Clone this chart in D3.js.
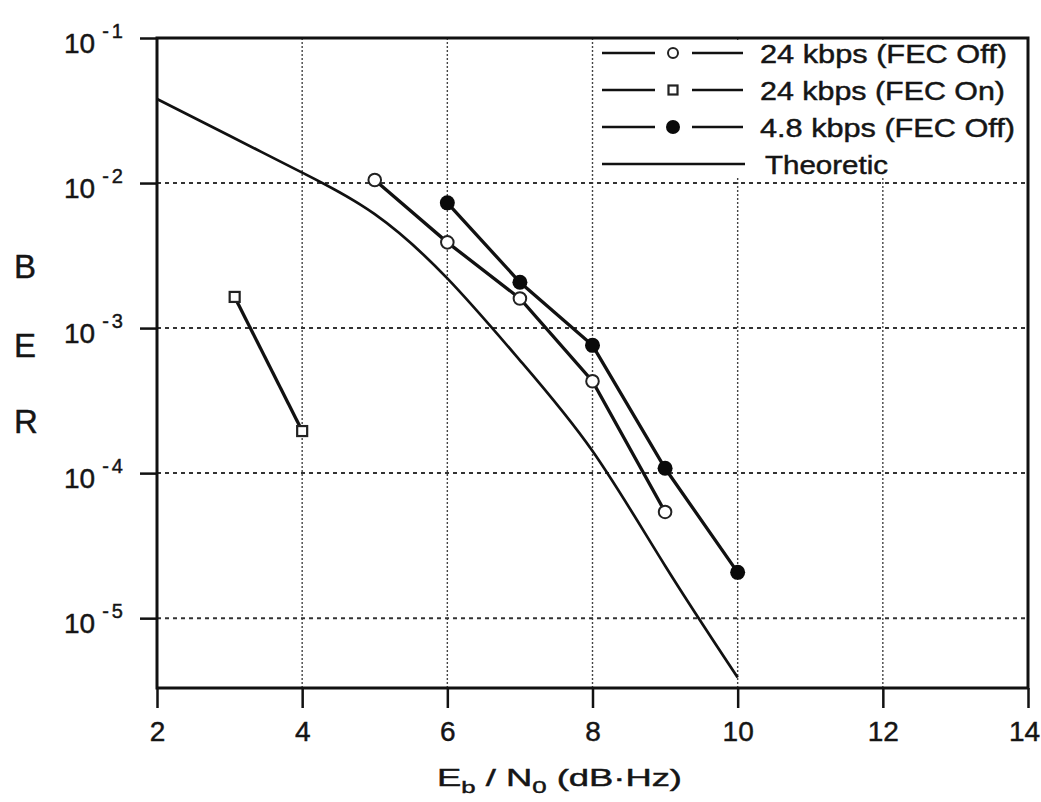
<!DOCTYPE html>
<html>
<head>
<meta charset="utf-8">
<script src="https://cdn.jsdelivr.net/npm/d3@7"></script>
<style>
  body { margin: 0; background: #fff; }
  text { font-family: "Liberation Sans", Arial, Helvetica, sans-serif; fill: #151515; stroke: #151515; stroke-width: 0.45px; }
</style>
</head>
<body>
<div id="chart"></div>
<script>
// values: Eb/N0 (dB-Hz) against BER
var fecOff24X = [5, 6, 7, 8, 9];
var fecOff24 = [0.0105, 0.0039, 0.0016, 0.00043, 0.000054];

var fecOn24X = [3.07, 4];
var fecOn24 = [0.00164, 0.000195];

var fecOff48X = [6, 7, 8, 9, 10];
var fecOff48 = [0.0073, 0.00207, 0.00076, 0.000108, 0.0000207];

var theoryX = [2, 3, 4, 5, 6, 7, 8, 9, 10];
var theory = [0.038, 0.0212, 0.0118, 0.0061, 0.0022, 0.0006, 0.000142, 0.000023, 0.0000039];

var xTicks = [2, 4, 6, 8, 10, 12, 14];
var yExps = [-1, -2, -3, -4, -5];
var legendLabels = ["24 kbps (FEC Off)", "24 kbps (FEC On)", "4.8 kbps (FEC Off)", "Theoretic"];

var width = 1041,
    height = 802;

var x = d3.scaleLinear()
    .domain([2, 14])
    .range([157, 1028]);

var y = d3.scaleLog()
    .domain([3.3e-6, 0.1])
    .range([688, 38]);

var svg = d3.select("#chart")
    .append("svg")
    .attr("width", width)
    .attr("height", height);

var zip = function(xs, ys) { return xs.map(function(v, i) { return {x: v, y: ys[i]}; }); };

// grid lines
svg.append("g")
    .selectAll("line")
    .data(xTicks.slice(1, -1))
    .enter().append("line")
    .attr("x1", d => x(d)).attr("x2", d => x(d))
    .attr("y1", y.range()[1]).attr("y2", y.range()[0])
    .style("stroke", "#444")
    .style("stroke-width", 1.4)
    .style("stroke-dasharray", "2,2");

svg.append("g")
    .selectAll("line")
    .data(yExps.slice(1))
    .enter().append("line")
    .attr("x1", x.range()[0]).attr("x2", x.range()[1])
    .attr("y1", d => y(Math.pow(10, d))).attr("y2", d => y(Math.pow(10, d)))
    .style("stroke", "#333")
    .style("stroke-width", 2)
    .style("stroke-dasharray", "4,4");

// legend sits on a white box that hides the grid
var legend = svg.append("g");
legend.append("rect")
    .attr("x", 598).attr("y", 40)
    .attr("width", 428).attr("height", 136)
    .style("fill", "#fff");

// axes
var xAxis = svg.append("g")
    .attr("transform", "translate(0," + y.range()[0] + ")")
    .call(d3.axisBottom(x).tickValues(xTicks).tickSize(20).tickFormat(""));

var yAxis = svg.append("g")
    .attr("transform", "translate(" + x.range()[0] + ",0)")
    .call(d3.axisLeft(y).tickValues(yExps.map(e => Math.pow(10, e))).tickSize(17).tickFormat(""));

[xAxis, yAxis].forEach(function(a) {
    a.select(".domain").remove();
    a.selectAll("line").style("stroke", "#111").style("stroke-width", 2.5);
});

xAxis.selectAll(".tick")
    .append("text")
    .attr("y", 53)
    .attr("x", d => d == 14 ? -4 : 0)
    .attr("text-anchor", "middle")
    .style("font-size", "28px")
    .style("fill", "#151515")
    .text(d => d);

yAxis.selectAll(".tick")
    .append("text")
    .attr("x", -93)
    .attr("y", 14)
    .attr("text-anchor", "start")
    .style("font-size", "28px")
    .style("fill", "#151515")
    .each(function(d) {
        var t = d3.select(this);
        t.append("tspan").text("10");
        t.append("tspan")
            .attr("dx", 7)
            .attr("dy", -15)
            .style("font-size", "20px")
            .style("letter-spacing", "3px")
            .text("-" + (-Math.round(Math.log10(d))));
    });

// frame
svg.append("rect")
    .attr("x", x.range()[0]).attr("y", y.range()[1])
    .attr("width", x.range()[1] - x.range()[0])
    .attr("height", y.range()[0] - y.range()[1])
    .style("fill", "none")
    .style("stroke", "#111")
    .style("stroke-width", 3);

// axis titles
var xTitle = svg.append("text")
    .attr("x", 437)
    .attr("y", 786)
    .attr("textLength", 245)
    .attr("lengthAdjust", "spacingAndGlyphs")
    .style("font-size", "24px");
xTitle.append("tspan").text("E");
xTitle.append("tspan").attr("dy", 7).style("font-size", "17px").text("b");
xTitle.append("tspan").attr("dy", -7).text(" / N");
xTitle.append("tspan").attr("dy", 7).style("font-size", "17px").text("0");
xTitle.append("tspan").attr("dy", -7).text(" (dB\u00b7Hz)");

svg.append("g")
    .selectAll("text")
    .data(["B", "E", "R"])
    .enter().append("text")
    .attr("x", 14)
    .attr("y", (d, i) => [278, 357, 433][i])
    .style("font-size", "33px")
    .text(d => d);

// curves
var line = d3.line()
    .x(d => x(d.x))
    .y(d => y(d.y));

var smooth = d3.line()
    .x(d => x(d.x))
    .y(d => y(d.y))
    .curve(d3.curveNatural);

var plot = svg.append("g");

plot.append("path")
    .datum(zip(theoryX, theory))
    .attr("d", smooth)
    .style("fill", "none")
    .style("stroke", "#111")
    .style("stroke-width", 2.7);

var series = [
    {data: zip(fecOff24X, fecOff24), marker: "open"},
    {data: zip(fecOn24X, fecOn24), marker: "square"},
    {data: zip(fecOff48X, fecOff48), marker: "filled"}
];

series.forEach(function(s) {
    plot.append("path")
        .datum(s.data)
        .attr("d", line)
        .style("fill", "none")
        .style("stroke", "#111")
        .style("stroke-width", 3.3);

    var pts = plot.append("g")
        .selectAll("g")
        .data(s.data)
        .enter().append("g")
        .attr("transform", d => "translate(" + x(d.x) + "," + y(d.y) + ")");
    drawMarker(pts, s.marker, false);
});

function drawMarker(sel, kind, small) {
    if (kind == "square") {
        var h = small ? 4.5 : 5;
        sel.append("rect")
            .attr("x", -h).attr("y", -h)
            .attr("width", 2 * h).attr("height", 2 * h)
            .style("fill", "#fff")
            .style("stroke", "#222")
            .style("stroke-width", 2.2);
    }
    else if (kind == "open") {
        sel.append("circle")
            .attr("r", small ? 5 : 6.3)
            .style("fill", "#fff")
            .style("stroke", "#222")
            .style("stroke-width", 2);
    }
    else if (kind == "filled") {
        sel.append("circle")
            .attr("r", small ? 7 : 7.5)
            .style("fill", "#0a0a0a");
    }
}

// legend rows
var rowY = [53, 90, 127, 164];
var rowWidth = [247, 245, 255, 123];
var kinds = ["open", "square", "filled", null];

legendLabels.forEach(function(label, i) {
    var row = legend.append("g")
        .attr("transform", "translate(0," + rowY[i] + ")");
    if (kinds[i]) {
        row.append("line").attr("x1", 602).attr("x2", 655);
        row.append("line").attr("x1", 692).attr("x2", 743);
        drawMarker(row.append("g").attr("transform", "translate(673,0)"), kinds[i], true);
    }
    else {
        row.append("line").attr("x1", 602).attr("x2", 745);
    }
    row.selectAll("line")
        .style("stroke", "#111")
        .style("stroke-width", 2.4);
    row.append("text")
        .attr("x", i == 3 ? 765 : 760)
        .attr("y", 10)
        .attr("textLength", rowWidth[i])
        .attr("lengthAdjust", "spacingAndGlyphs")
        .style("font-size", "25px")
        .text(label);
});
</script>
</body>
</html>
